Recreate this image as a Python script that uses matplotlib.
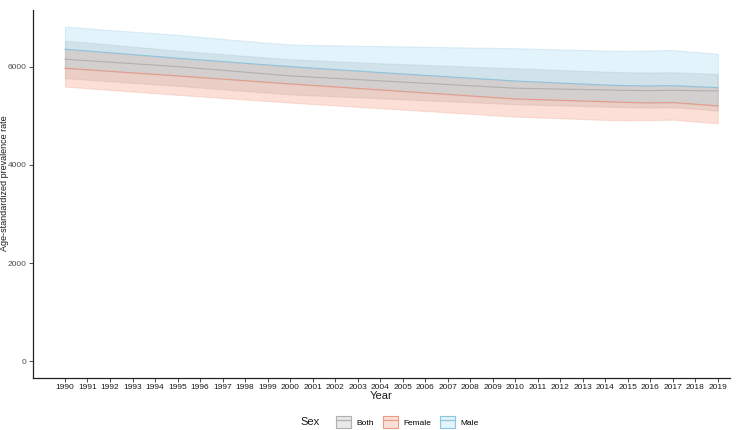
import matplotlib
matplotlib.use("Agg")
import matplotlib.pyplot as plt
from matplotlib.patches import Patch
from matplotlib.lines import Line2D
from matplotlib.colors import to_rgba
from matplotlib.legend_handler import HandlerTuple

plt.rcParams['font.family'] = ['Liberation Sans', 'DejaVu Sans']

years = list(range(1990, 2020))

male_upper = [6814, 6780, 6745, 6712, 6680, 6646, 6605, 6565, 6525, 6485,
              6450, 6440, 6432, 6425, 6418, 6410, 6402, 6395, 6388, 6382,
              6375, 6362, 6350, 6338, 6326, 6320, 6330, 6338, 6300, 6259]
male_val = [6354, 6318, 6282, 6245, 6208, 6171, 6137, 6103, 6068, 6034,
            6000, 5970, 5940, 5910, 5880, 5850, 5822, 5793, 5765, 5736,
            5707, 5686, 5665, 5645, 5625, 5612, 5608, 5612, 5592, 5572]
male_lower = [5967, 5936, 5904, 5873, 5842, 5811, 5778, 5746, 5713, 5681,
              5648, 5618, 5587, 5556, 5526, 5495, 5464, 5434, 5403, 5373,
              5342, 5328, 5314, 5300, 5287, 5270, 5262, 5268, 5235, 5200]

both_upper = [6530, 6490, 6450, 6408, 6368, 6326, 6290, 6255, 6220, 6185,
              6151, 6130, 6110, 6090, 6070, 6052, 6035, 6018, 6000, 5983,
              5967, 5950, 5932, 5915, 5898, 5885, 5880, 5885, 5870, 5851]
both_val = [6151, 6120, 6090, 6060, 6030, 6000, 5962, 5925, 5887, 5849,
            5811, 5785, 5760, 5735, 5710, 5685, 5660, 5635, 5610, 5585,
            5560, 5551, 5542, 5534, 5525, 5515, 5512, 5518, 5510, 5505]
both_lower = [5764, 5733, 5701, 5670, 5638, 5607, 5572, 5538, 5503, 5469,
              5434, 5414, 5394, 5374, 5354, 5334, 5314, 5294, 5274, 5254,
              5234, 5222, 5210, 5197, 5185, 5172, 5165, 5170, 5140, 5104]

female_upper = [6354, 6318, 6282, 6245, 6208, 6171, 6137, 6103, 6068, 6034,
                6000, 5970, 5940, 5910, 5880, 5850, 5822, 5793, 5765, 5736,
                5707, 5686, 5665, 5645, 5625, 5612, 5608, 5612, 5592, 5572]
female_val = [5967, 5936, 5904, 5873, 5842, 5811, 5778, 5746, 5713, 5681,
              5648, 5618, 5587, 5556, 5526, 5495, 5464, 5434, 5403, 5373,
              5342, 5328, 5314, 5300, 5287, 5270, 5262, 5268, 5235, 5200]
female_lower = [5593, 5559, 5525, 5492, 5458, 5424, 5393, 5361, 5330, 5298,
                5267, 5238, 5210, 5181, 5153, 5124, 5096, 5067, 5039, 5010,
                4982, 4965, 4948, 4931, 4914, 4905, 4910, 4920, 4880, 4847]

sexes = ["Both", "Female", "Male"]
fills = {"Both": "#a6a6a6", "Female": "#f7825f", "Male": "#8fd3f0"}
edges = {"Both": "#b0b0b0", "Female": "#e99a86", "Male": "#8cc4dc"}
bands = {"Both": (both_lower, both_val, both_upper),
         "Female": (female_lower, female_val, female_upper),
         "Male": (male_lower, male_val, male_upper)}

fig = plt.figure(figsize=(7.5, 4.3), dpi=100)
ax = fig.add_axes([0.044, 0.121, 0.929, 0.856])

for s in sexes:
    lo, mid, hi = bands[s]
    ax.fill_between(years, lo, hi, facecolor=fills[s], alpha=0.25,
                    edgecolor=edges[s], linewidth=0.8)
    ax.plot(years, mid, color=edges[s], linewidth=0.8)

ax.set_xlim(1988.58, 2019.53)
ax.set_ylim(-341, 7155)
ax.set_xticks(years)
ax.set_xticklabels([str(y) for y in years], fontsize=6, color="#1a1a1a")
ax.set_yticks([0, 2000, 4000, 6000])
ax.set_yticklabels(["0", "2000", "4000", "6000"], fontsize=6, color="#4d4d4d")
ax.tick_params(length=3, width=0.6, color="#333333", pad=1.5)
for side in ["top", "right"]:
    ax.spines[side].set_visible(False)
for side in ["left", "bottom"]:
    ax.spines[side].set_color("#222222")
    ax.spines[side].set_linewidth(0.9)

ax.set_xlabel("Year", fontsize=8, color="#1a1a1a", labelpad=0)
fig.text(0.0, 0.574, "Age-standardized prevalence rate", fontsize=6.5, color="#1a1a1a",
         rotation=90, ha="left", va="center")

handles = []
for s in sexes:
    fc = to_rgba(fills[s], 0.25)
    handles.append((Patch(facecolor=fc, edgecolor=edges[s], linewidth=0.8),
                    Line2D([], [], color=edges[s], linewidth=0.8)))
fig.text(0.40, 0.019, "Sex", fontsize=8, color="#1a1a1a", va="center")
fig.legend(handles, sexes, loc="center left", bbox_to_anchor=(0.448, 0.019),
           ncol=3, frameon=False, fontsize=6, handlelength=1.8, handleheight=1.8,
           handletextpad=0.7, columnspacing=1.0, borderpad=0, borderaxespad=0,
           handler_map={tuple: HandlerTuple(ndivide=1, pad=0)})

fig.savefig("out.png", dpi=100)
